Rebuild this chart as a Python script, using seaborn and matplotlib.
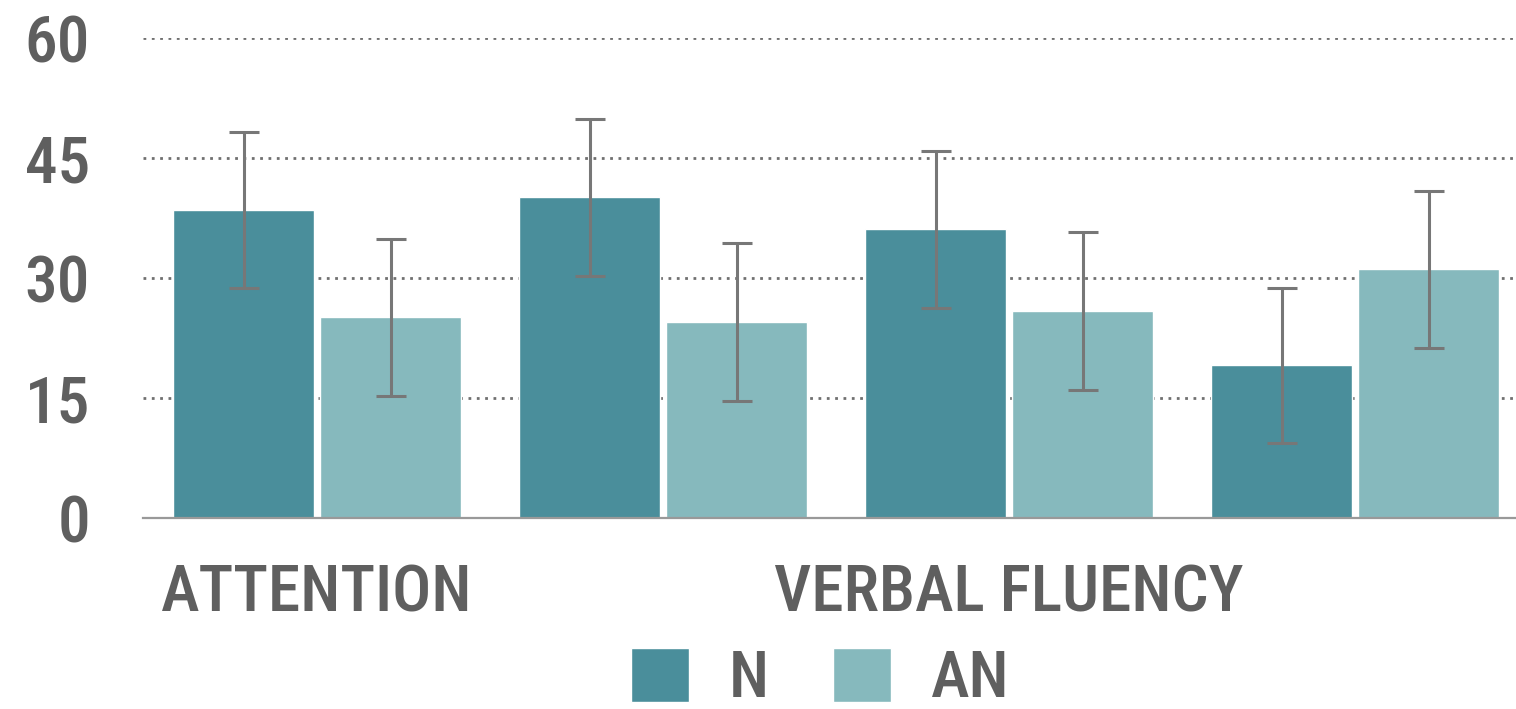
import matplotlib
matplotlib.use("Agg")
import matplotlib.pyplot as plt
from matplotlib import font_manager
import seaborn as sb
import pandas as pd

# values
groups = ["g1", "g2", "g3", "g4"]
tick_labels = ["ATTENTION", "", "VERBAL FLUENCY", ""]
conditions = ["N", "AN"]
n_scores = [38.5, 40.1, 36.1, 19.1]
an_scores = [25.1, 24.5, 25.9, 31.1]
n_err = [9.8, 9.8, 9.8, 9.7]
an_err = [9.8, 9.9, 9.9, 9.8]
y_ticks = [0, 15, 30, 45, 60]

colors = ["#4a8e9b", "#86b9bd"]
text_col = "#5f5f5f"

names = {f.name for f in font_manager.fontManager.ttflist}
font = "Roboto"
for cand in ["Roboto Condensed", "Liberation Sans Narrow", "Open Sans Condensed"]:
	if cand in names:
		font = cand
		break
fsize = 47 if font != "Roboto" else 44

df = pd.DataFrame({
	"group": groups * 2,
	"cond": ["N"] * len(groups) + ["AN"] * len(groups),
	"score": n_scores + an_scores,
})

sb.set_style("white")
plt.rcParams["font.family"] = [font, "DejaVu Sans"]
plt.rcParams["font.weight"] = "medium"

fig = plt.figure(figsize = (15.16, 7.09), dpi = 100)
ax = fig.add_axes([143/1516, 1 - 518/709, 1 - 143/1516, 480/709])

sb.barplot(data = df, x = "group", y = "score", hue = "cond", order = groups, hue_order = conditions,
	palette = colors, width = 0.85, gap = 0.04, errorbar = None, saturation = 1, ax = ax)

for cont, errs in zip(ax.containers, [n_err, an_err]):
	for bar, e in zip(cont, errs):
		xc = bar.get_x() + bar.get_width()/2
		ax.errorbar(xc, bar.get_height(), yerr = e, color = "#777777", elinewidth = 2.2,
			capsize = 11, capthick = 2.2, clip_on = False, zorder = 5)

ax.set_ylim(0, 60)
ax.set_xlim(-0.503, 3.465)
ax.set_yticks(y_ticks)
ax.set_yticklabels([str(t) for t in y_ticks])
ax.set_xticks(range(len(groups)))
ax.set_xticklabels(tick_labels)
ax.tick_params(axis = "y", length = 0, pad = 38, labelsize = fsize, labelcolor = text_col)
ax.tick_params(axis = "x", length = 0, pad = 32, labelsize = fsize, labelcolor = text_col)
ax.set_xlabel("")
ax.set_ylabel("")

ax.yaxis.grid(True, linestyle = (0, (1, 2)), color = "#707070", linewidth = 2)
ax.set_axisbelow(True)
for s in ["top", "right", "left"]:
	ax.spines[s].set_visible(False)
ax.spines["bottom"].set_color("#999999")
ax.spines["bottom"].set_linewidth(1.6)

sb.move_legend(ax, "center", bbox_to_anchor = (820/1516, 1 - 679/709), bbox_transform = fig.transFigure,
	ncol = 2, frameon = False, title = None, fontsize = fsize, handlelength = 0.9, handleheight = 0.9,
	handletextpad = 0.6, columnspacing = 0.98, borderpad = 0)
for t in ax.get_legend().get_texts():
	t.set_color(text_col)

fig.savefig("out.png", dpi = 100)
